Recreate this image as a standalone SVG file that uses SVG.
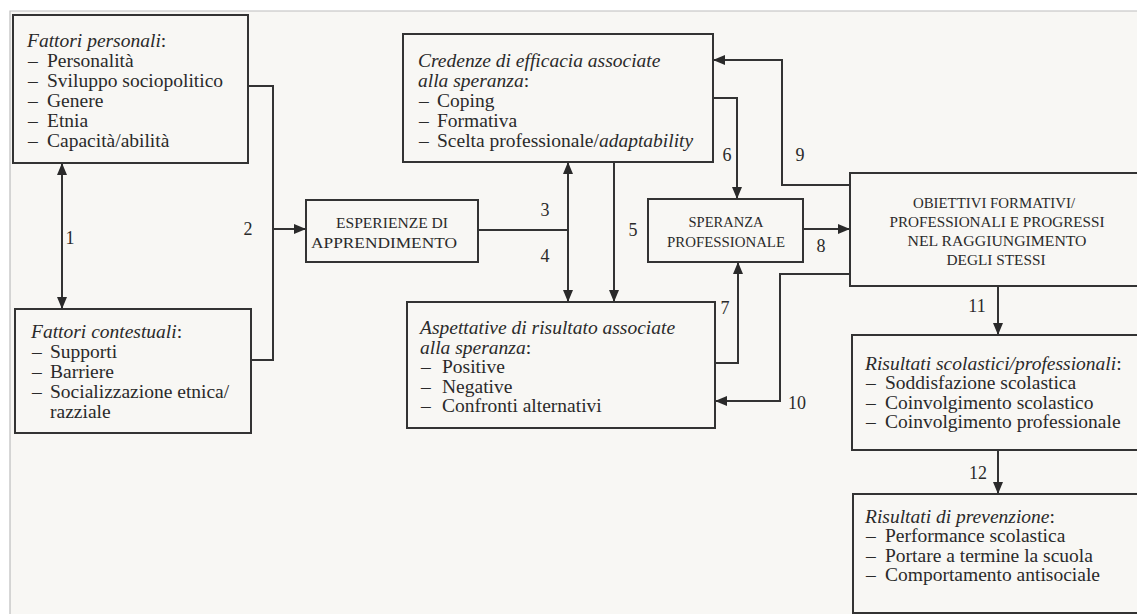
<svg xmlns="http://www.w3.org/2000/svg" width="1137" height="614" viewBox="0 0 1137 614">
<defs>
<style>
.box{fill:none;stroke:#333;stroke-width:2}
.ln{fill:none;stroke:#333;stroke-width:2}
.t{font-family:"Liberation Serif","Times New Roman",serif;font-size:19.5px;fill:#2a2a2a}
.i{font-style:italic}
.c{font-family:"Liberation Serif","Times New Roman",serif;font-size:15px;fill:#2a2a2a;text-anchor:middle}
.n{font-family:"Liberation Serif","Times New Roman",serif;font-size:18px;fill:#2a2a2a;text-anchor:middle}
</style>
<marker id="ah" markerWidth="12" markerHeight="10" refX="11" refY="5" orient="auto-start-reverse" markerUnits="userSpaceOnUse">
<path d="M0,0 L12,5 L0,10 Z" fill="#2a2a2a"/>
</marker>
</defs>
<rect x="0" y="0" width="1137" height="614" fill="#ffffff"/>
<rect x="10" y="11" width="1127" height="603" fill="#f8f7f4"/>
<path d="M10,614 V11 H1137" fill="none" stroke="#bdbdbd" stroke-width="1.2"/>

<g id="connectors">
<path class="ln" d="M62,164 V308" marker-start="url(#ah)" marker-end="url(#ah)"/>
<path class="ln" d="M248,86 H273 V360 H251"/>
<path class="ln" d="M273,229 H305" marker-end="url(#ah)"/>
<path class="ln" d="M478,230 H568"/>
<path class="ln" d="M568,230 V163" marker-end="url(#ah)"/>
<path class="ln" d="M568,230 V301" marker-end="url(#ah)"/>
<path class="ln" d="M614,162 V301" marker-end="url(#ah)"/>
<path class="ln" d="M713,98 H737 V198" marker-end="url(#ah)"/>
<path class="ln" d="M715,363 H738 V263" marker-end="url(#ah)"/>
<path class="ln" d="M803,229 H849" marker-end="url(#ah)"/>
<path class="ln" d="M850,185 H782 V60 H714" marker-end="url(#ah)"/>
<path class="ln" d="M850,274 H780 V401 H716" marker-end="url(#ah)"/>
<path class="ln" d="M998,286 V334" marker-end="url(#ah)"/>
<path class="ln" d="M998,450 V493" marker-end="url(#ah)"/>
<text class="n" x="70" y="244">1</text>
<text class="n" x="248" y="235">2</text>
<text class="n" x="545" y="216">3</text>
<text class="n" x="545" y="262">4</text>
<text class="n" x="633" y="236">5</text>
<text class="n" x="727" y="161">6</text>
<text class="n" x="725" y="314">7</text>
<text class="n" x="821" y="252">8</text>
<text class="n" x="800" y="161">9</text>
<text class="n" x="797" y="409">10</text>
<text class="n" x="977" y="312">11</text>
<text class="n" x="978" y="479">12</text>
</g>

<g id="fattori-personali">
<rect class="box" x="13" y="15" width="235" height="148"/>
<text class="t" x="27" y="47"><tspan class="i">Fattori personali</tspan>:</text>
<text class="t" x="28" y="67">–</text><text class="t" x="47" y="67">Personalità</text>
<text class="t" x="28" y="87">–</text><text class="t" x="47" y="87">Sviluppo sociopolitico</text>
<text class="t" x="28" y="107">–</text><text class="t" x="47" y="107">Genere</text>
<text class="t" x="28" y="127">–</text><text class="t" x="47" y="127">Etnia</text>
<text class="t" x="28" y="147">–</text><text class="t" x="47" y="147">Capacità/abilità</text>
</g>

<g id="fattori-contestuali">
<rect class="box" x="15" y="309" width="236" height="124"/>
<text class="t" x="31" y="338"><tspan class="i">Fattori contestuali</tspan>:</text>
<text class="t" x="32" y="358">–</text><text class="t" x="50" y="358">Supporti</text>
<text class="t" x="32" y="378">–</text><text class="t" x="50" y="378">Barriere</text>
<text class="t" x="32" y="398">–</text><text class="t" x="50" y="398">Socializzazione etnica/</text>
<text class="t" x="50" y="418">razziale</text>
</g>

<g id="esperienze">
<rect class="box" x="306" y="200" width="172" height="62"/>
<text class="c" x="392" y="228" textLength="112" lengthAdjust="spacingAndGlyphs">ESPERIENZE DI</text>
<text class="c" x="384" y="248" textLength="146" lengthAdjust="spacingAndGlyphs">APPRENDIMENTO</text>
</g>

<g id="credenze">
<rect class="box" x="403" y="34" width="310" height="128"/>
<text class="t" x="418" y="67"><tspan class="i">Credenze di efficacia associate</tspan></text>
<text class="t" x="418" y="87"><tspan class="i">alla speranza</tspan>:</text>
<text class="t" x="419" y="107">–</text><text class="t" x="437" y="107">Coping</text>
<text class="t" x="419" y="127">–</text><text class="t" x="437" y="127">Formativa</text>
<text class="t" x="419" y="147">–</text><text class="t" x="437" y="147">Scelta professionale/<tspan class="i">adaptability</tspan></text>
</g>

<g id="aspettative">
<rect class="box" x="407" y="302" width="308" height="126"/>
<text class="t" x="420" y="334"><tspan class="i">Aspettative di risultato associate</tspan></text>
<text class="t" x="420" y="354"><tspan class="i">alla speranza</tspan>:</text>
<text class="t" x="421" y="373">–</text><text class="t" x="442" y="373">Positive</text>
<text class="t" x="421" y="393">–</text><text class="t" x="442" y="393">Negative</text>
<text class="t" x="421" y="412">–</text><text class="t" x="442" y="412">Confronti alternativi</text>
</g>

<g id="speranza">
<rect class="box" x="648" y="199" width="155" height="63"/>
<text class="c" x="726" y="227" textLength="75" lengthAdjust="spacingAndGlyphs">SPERANZA</text>
<text class="c" x="726" y="247" textLength="118" lengthAdjust="spacingAndGlyphs">PROFESSIONALE</text>
</g>

<g id="obiettivi">
<rect class="box" x="850" y="173" width="300" height="113"/>
<text class="c" x="994" y="208" textLength="162" lengthAdjust="spacingAndGlyphs">OBIETTIVI FORMATIVI/</text>
<text class="c" x="997" y="227" textLength="215" lengthAdjust="spacingAndGlyphs">PROFESSIONALI E PROGRESSI</text>
<text class="c" x="997" y="246" textLength="179" lengthAdjust="spacingAndGlyphs">NEL RAGGIUNGIMENTO</text>
<text class="c" x="996" y="265" textLength="99" lengthAdjust="spacingAndGlyphs">DEGLI STESSI</text>
</g>

<g id="risultati-scolastici">
<rect class="box" x="852" y="335" width="300" height="115"/>
<text class="t" x="865" y="370"><tspan class="i">Risultati scolastici/professionali</tspan>:</text>
<text class="t" x="866" y="389">–</text><text class="t" x="885" y="389">Soddisfazione scolastica</text>
<text class="t" x="866" y="409">–</text><text class="t" x="885" y="409">Coinvolgimento scolastico</text>
<text class="t" x="866" y="428">–</text><text class="t" x="885" y="428">Coinvolgimento professionale</text>
</g>

<g id="risultati-prevenzione">
<rect class="box" x="853" y="494" width="300" height="119"/>
<text class="t" x="865" y="523"><tspan class="i">Risultati di prevenzione</tspan>:</text>
<text class="t" x="866" y="542">–</text><text class="t" x="885" y="542">Performance scolastica</text>
<text class="t" x="866" y="562">–</text><text class="t" x="885" y="562">Portare a termine la scuola</text>
<text class="t" x="866" y="581">–</text><text class="t" x="885" y="581">Comportamento antisociale</text>
</g>
</svg>
